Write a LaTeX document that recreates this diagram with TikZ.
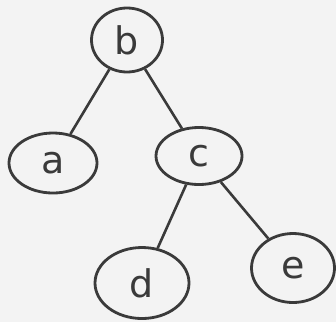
\documentclass[tikz,border=0pt]{standalone}
\usetikzlibrary{shapes.geometric}
\usepackage{fontspec}
\setmainfont{DejaVu Sans}
\definecolor{ink}{HTML}{3A3A3A}
\definecolor{paper}{HTML}{F3F3F3}
\begin{document}
\begin{tikzpicture}[x=1pt,y=-1pt,
  vtx/.style={draw=ink, line width=2.8pt, ellipse, inner sep=0pt, text=ink, font=\fontsize{38}{38}\selectfont},
  edge/.style={draw=ink, line width=2.6pt}]
\fill[paper] (0,0) rectangle (336,322);
\useasboundingbox (0,0) rectangle (336,322);
\node[vtx, minimum width=71pt, minimum height=64pt] (b) at (127,40) {b};
\node[vtx, minimum width=88pt, minimum height=60pt] (a) at (53,163) {a};
\node[vtx, minimum width=86pt, minimum height=57pt] (c) at (199,156) {c};
\node[vtx, minimum width=94pt, minimum height=71pt] (d) at (142,283) {d};
\node[vtx, minimum width=83pt, minimum height=69pt] (e) at (293,268) {e};
\draw[edge] (b) -- (a);
\draw[edge] (b) -- (c);
\draw[edge] (c) -- (d);
\draw[edge] (c) -- (e);
\end{tikzpicture}
\end{document}
